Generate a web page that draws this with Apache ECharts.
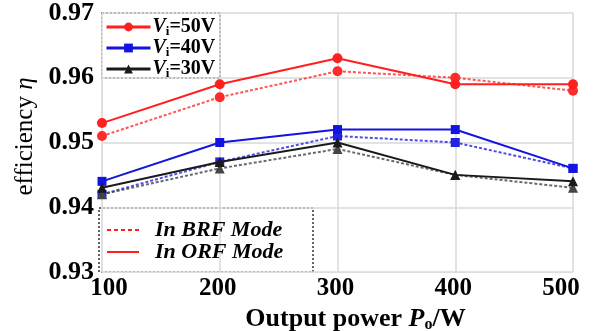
<!DOCTYPE html>
<html>
<head>
<meta charset="utf-8">
<script src="https://cdn.jsdelivr.net/npm/echarts@6/dist/echarts.min.js"></script>
<style>
  html, body { margin: 0; padding: 0; background: #fff; }
  #chart { width: 607px; height: 331px; }
</style>
</head>
<body>
<div id="chart"></div>
<script>
var power = [100, 200, 300, 400, 500]
var yTicks = [0.93, 0.94, 0.95, 0.96, 0.97]

// ORF mode (solid lines)
var orf50 = [0.953, 0.959, 0.963, 0.959, 0.959]
var orf40 = [0.944, 0.950, 0.952, 0.952, 0.946]
var orf30 = [0.943, 0.947, 0.950, 0.945, 0.944]
// BRF mode (dashed lines)
var brf50 = [0.951, 0.957, 0.961, 0.960, 0.958]
var brf40 = [0.942, 0.947, 0.951, 0.950, 0.946]
var brf30 = [0.942, 0.946, 0.949, 0.945, 0.943]

var serif = '"Liberation Serif", "DejaVu Serif", serif'

function pairs(ys) {
  return power.map(function(p, i) { return [p, ys[i]] })
}

function line(name, ys, color, symbol, size, dashed) {
  return {
    name: name,
    type: 'line',
    data: pairs(ys),
    symbol: symbol,
    symbolSize: size,
    color: color,
    lineStyle: { width: 2, type: dashed ? [3, 2] : 'solid', color: color, opacity: dashed ? 0.8 : 1 },
    itemStyle: { color: color },
    z: dashed ? 2 : 3,
    animation: false
  }
}

var chart = echarts.init(document.getElementById('chart'))

var viRich = {
  v: { fontFamily: serif, fontStyle: 'italic', fontWeight: 'bold', fontSize: 20, color: '#000' },
  s: { fontFamily: serif, fontWeight: 'bold', fontSize: 13, color: '#000', padding: [9, 0, 0, 0] },
  n: { fontFamily: serif, fontWeight: 'bold', fontSize: 20, color: '#000' }
}

var tickFont = { fontFamily: serif, fontWeight: 'bold', fontSize: 25, color: '#000' }

chart.setOption({
  grid: { left: 102, right: 34, top: 13, bottom: 59, outerBoundsMode: 'none' },
  xAxis: {
    type: 'value',
    min: 100,
    max: 500,
    interval: 100,
    name: 'Output power {p|P}{o|o}/W',
    nameLocation: 'middle',
    nameGap: 25,
    nameTextStyle: {
      fontFamily: serif, fontWeight: 'bold', fontSize: 26, color: '#000', padding: [0, 0, 0, 36],
      rich: {
        p: { fontFamily: serif, fontWeight: 'bold', fontStyle: 'italic', fontSize: 26, color: '#000' },
        o: { fontFamily: serif, fontWeight: 'bold', fontSize: 16, color: '#000', padding: [12, 0, 0, 0] }
      }
    },
    axisLine: { lineStyle: { color: '#ddd' } },
    axisTick: { show: false },
    axisLabel: {
      fontFamily: serif, fontWeight: 'bold', fontSize: 25, color: '#000', margin: 4,
      formatter: function(v) {
        if (v === power[0]) return '{l|' + v + '}'
        if (v === power[power.length - 1]) return '{r|' + v + '}'
        return '{m|' + v + '}'
      },
      rich: {
        l: Object.assign({ padding: [0, 0, 0, 14] }, tickFont),
        r: Object.assign({ padding: [0, 24, 0, 0] }, tickFont),
        m: Object.assign({ padding: [0, 4, 0, 0] }, tickFont)
      }
    },
    splitLine: { lineStyle: { color: '#d8d8d8', width: 1.5 } }
  },
  yAxis: {
    type: 'value',
    min: yTicks[0],
    max: yTicks[yTicks.length - 1],
    interval: 0.01,
    name: 'efficiency {e|η}',
    nameLocation: 'middle',
    nameGap: 62,
    nameTextStyle: {
      fontFamily: serif, fontSize: 25, color: '#000', padding: [0, 0, 0, 12],
      rich: { e: { fontFamily: serif, fontStyle: 'italic', fontSize: 25, color: '#000' } }
    },
    axisLine: { show: true, lineStyle: { color: '#ddd' } },
    axisTick: { show: false },
    axisLabel: {
      fontFamily: serif, fontWeight: 'bold', fontSize: 26, color: '#000', margin: 8,
      formatter: function(v) { return v.toFixed(2) }
    },
    splitLine: { lineStyle: { color: '#d8d8d8', width: 1.5 } }
  },
  legend: [{
    data: ['50', '40', '30'],
    orient: 'vertical',
    left: 105,
    top: 17,
    itemWidth: 44,
    itemHeight: 11,
    itemGap: 0,
    padding: 0,
    lineStyle: { width: 3 },
    formatter: function(n) { return '{v|V}{s|i}{n|=' + n + 'V}' },
    textStyle: { rich: viRich, padding: [0, 0, 0, -3] }
  }, {
    data: ['In BRF Mode', 'In ORF Mode'],
    orient: 'vertical',
    left: 106,
    top: 219,
    itemWidth: 32,
    itemHeight: 12,
    itemGap: 0,
    padding: 0,
    itemStyle: { opacity: 0 },
    textStyle: { fontFamily: serif, fontStyle: 'italic', fontWeight: 'bold', fontSize: 22, color: '#000', padding: [0, 0, 0, 11] }
  }],
  graphic: [{
    type: 'rect',
    shape: { x: 102, y: 13, width: 118, height: 65 },
    style: { fill: 'rgba(255,255,255,0.85)', stroke: '#333', lineWidth: 1.5, lineDash: [2, 2] },
    z: 0
  }, {
    type: 'rect',
    shape: { x: 99, y: 208, width: 214, height: 64 },
    style: { fill: 'rgba(255,255,255,0.9)', stroke: '#333', lineWidth: 1.5, lineDash: [2, 2] },
    z: 0
  }],
  series: [
    line('50', orf50, '#ff1f1f', 'circle', 10, false),
    line('40', orf40, '#1414e0', 'rect', 9, false),
    line('30', orf30, '#1a1a1a', 'triangle', 10, false),
    line('brf50', brf50, '#ff2a2a', 'circle', 10, true),
    line('brf40', brf40, '#2222e0', 'rect', 9, true),
    line('brf30', brf30, '#444', 'triangle', 10, true),
    {
      name: 'In BRF Mode', type: 'line', data: [], symbol: 'none', color: '#ff1f1f',
      lineStyle: { type: [4, 3], width: 3, color: '#ff1f1f' }
    },
    {
      name: 'In ORF Mode', type: 'line', data: [], symbol: 'none', color: '#ff1f1f',
      lineStyle: { type: 'solid', width: 3.5, color: '#ff1f1f' }
    }
  ]
})
</script>
</body>
</html>
